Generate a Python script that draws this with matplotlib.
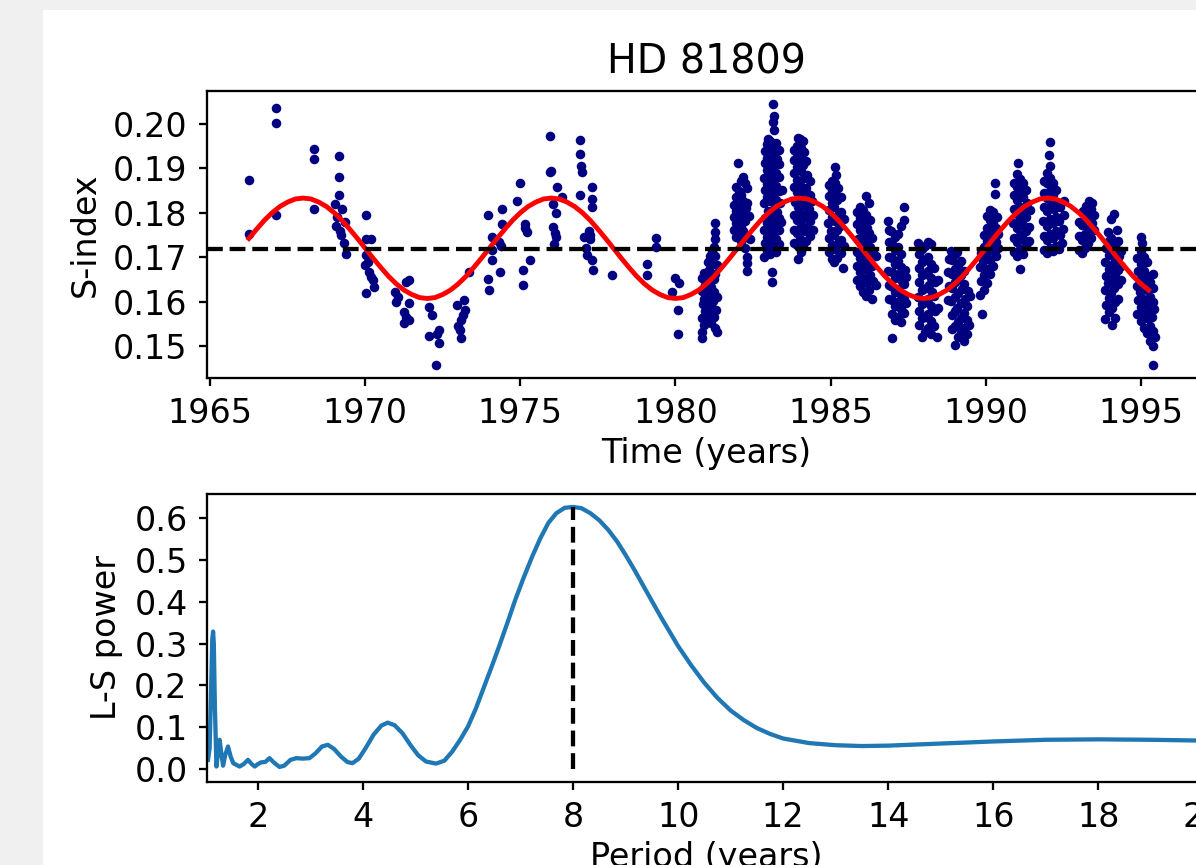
import numpy as np
import matplotlib
matplotlib.use('Agg')
import matplotlib.pyplot as plt
from matplotlib.patches import Rectangle
from matplotlib.ticker import MultipleLocator

# --- data ---
star_name = 'HD 81809'
mean_sindex = 0.1718
best_period = 8.0
peak_power = 0.627

# (year, S-index), sparse early seasons
sparse_obs = [
    (1966.25, 0.1874), (1966.25, 0.1753), (1967.14, 0.2035), (1967.14, 0.2001), (1967.13, 0.1794),
    (1968.36, 0.1943), (1968.36, 0.1921), (1968.36, 0.1809),
    (1969.15, 0.1927), (1969.15, 0.1881), (1969.15, 0.1840), (1969.02, 0.1820), (1969.25, 0.1809),
    (1969.36, 0.1780), (1969.05, 0.1771), (1969.19, 0.1760), (1969.30, 0.1732), (1969.39, 0.1706),
    (1969.10, 0.1790), (1969.22, 0.1750),
    (1970.04, 0.1795), (1970.04, 0.1741), (1970.17, 0.1741), (1970.03, 0.1704), (1970.00, 0.1682),
    (1970.12, 0.1667), (1970.24, 0.1648), (1970.27, 0.1633), (1970.01, 0.1620), (1970.10, 0.1690),
    (1970.20, 0.1655),
    (1970.97, 0.1622), (1971.00, 0.1599), (1971.24, 0.1577), (1971.24, 0.1551), (1971.30, 0.1644),
    (1971.40, 0.1648), (1971.40, 0.1596), (1971.40, 0.1558), (1971.30, 0.1565), (1971.05, 0.1610),
    (1972.05, 0.1588), (1972.15, 0.1570), (1972.05, 0.1522), (1972.37, 0.1536), (1972.37, 0.1506),
    (1972.29, 0.1457), (1972.30, 0.1528),
    (1972.96, 0.1592), (1973.17, 0.1603), (1973.20, 0.1581), (1973.10, 0.1558), (1973.05, 0.1536),
    (1973.10, 0.1517), (1973.15, 0.1570), (1973.00, 0.1545), (1973.33, 0.1667),
    (1973.97, 0.1794), (1974.08, 0.1745), (1974.08, 0.1693), (1974.35, 0.1667), (1973.97, 0.1650),
    (1974.00, 0.1626), (1974.41, 0.1809), (1974.40, 0.1775), (1974.38, 0.1726), (1974.10, 0.1715),
    (1974.30, 0.1735),
    (1974.89, 0.1827), (1975.00, 0.1868), (1975.16, 0.1775), (1975.20, 0.1756), (1975.16, 0.1765),
    (1975.32, 0.1693), (1975.10, 0.1670), (1975.10, 0.1638),
    (1975.96, 0.1973), (1975.96, 0.1891), (1976.18, 0.1857), (1976.05, 0.1820), (1976.34, 0.1835),
    (1976.05, 0.1767), (1976.15, 0.1745), (1976.10, 0.1730), (1976.00, 0.1895), (1976.15, 0.1800),
    (1976.12, 0.1755),
    (1976.93, 0.1963), (1976.93, 0.1932), (1976.95, 0.1906), (1977.00, 0.1891), (1976.93, 0.1840),
    (1977.31, 0.1857), (1977.31, 0.1831), (1977.31, 0.1812), (1977.20, 0.1760), (1977.25, 0.1741),
    (1977.15, 0.1704), (1977.30, 0.1693), (1977.35, 0.1670), (1977.10, 0.1720), (1977.25, 0.1750),
    (1977.05, 0.1745),
    (1977.95, 0.1659), (1979.08, 0.1685), (1979.08, 0.1659), (1979.38, 0.1743), (1979.38, 0.1723),
    (1979.88, 0.1622), (1979.99, 0.1652), (1980.10, 0.1642), (1980.07, 0.1581), (1980.08, 0.1527),
]

# (year, S-index), dense seasons 1981-1995
dense_obs = [
    # 1981
    (1980.84, 0.1518), (1980.86, 0.1531), (1980.85, 0.1562), (1980.88, 0.1594), (1980.87, 0.1623), (1980.86, 0.1652),
    (1980.93, 0.1547), (1980.94, 0.1578), (1980.92, 0.1606), (1980.95, 0.1637), (1980.93, 0.1664),
    (1981.01, 0.1556), (1981.02, 0.1587), (1981.00, 0.1603), (1981.03, 0.1617), (1981.01, 0.1642), (1981.02, 0.1661), (1981.04, 0.1688),
    (1981.08, 0.1561), (1981.09, 0.1576), (1981.07, 0.1597), (1981.10, 0.1626), (1981.08, 0.1646), (1981.09, 0.1671), (1981.11, 0.1702),
    (1981.16, 0.1552), (1981.15, 0.1591), (1981.17, 0.1612), (1981.16, 0.1633), (1981.18, 0.1657), (1981.15, 0.1684), (1981.17, 0.1712),
    (1981.23, 0.1566), (1981.22, 0.1601), (1981.24, 0.1622), (1981.23, 0.1651), (1981.25, 0.1722), (1981.27, 0.1741),
    (1981.28, 0.1541), (1981.30, 0.1582), (1981.29, 0.1663), (1981.28, 0.1702), (1981.29, 0.1757), (1981.27, 0.1776),
    (1981.34, 0.1532), (1981.35, 0.1611), (1981.33, 0.1682),
    # 1982
    (1981.88, 0.1762), (1981.89, 0.1791), (1981.88, 0.1818),
    (1981.95, 0.1746), (1981.96, 0.1776), (1981.94, 0.1804), (1981.96, 0.1836), (1981.95, 0.1858),
    (1982.03, 0.1911), (1982.04, 0.1849), (1982.02, 0.1816), (1982.03, 0.1787), (1982.05, 0.1751),
    (1982.10, 0.1871), (1982.11, 0.1841), (1982.09, 0.1802), (1982.12, 0.1769), (1982.10, 0.1736),
    (1982.18, 0.1880), (1982.17, 0.1826), (1982.19, 0.1794), (1982.18, 0.1758),
    (1982.25, 0.1866), (1982.26, 0.1811), (1982.24, 0.1781), (1982.26, 0.1745), (1982.25, 0.1721),
    (1982.31, 0.1856), (1982.32, 0.1822), (1982.31, 0.1701), (1982.30, 0.1686), (1982.31, 0.1669),
    (1982.38, 0.1792), (1982.39, 0.1741),
    # 1983
    (1983.15, 0.2044), (1983.16, 0.2018), (1983.14, 0.2004), (1983.18, 0.1986),
    (1982.86, 0.1701), (1982.87, 0.1732), (1982.85, 0.1761), (1982.88, 0.1789), (1982.86, 0.1822), (1982.87, 0.1851), (1982.85, 0.1879), (1982.88, 0.1912), (1982.87, 0.1938),
    (1982.95, 0.1714), (1982.96, 0.1746), (1982.94, 0.1776), (1982.97, 0.1804), (1982.95, 0.1836), (1982.96, 0.1864), (1982.94, 0.1897), (1982.96, 0.1924), (1982.95, 0.1954), (1982.97, 0.1966),
    (1983.04, 0.1706), (1983.05, 0.1734), (1983.06, 0.1766), (1983.04, 0.1796), (1983.05, 0.1826), (1983.06, 0.1854), (1983.04, 0.1886), (1983.05, 0.1914), (1983.06, 0.1944), (1983.05, 0.1961),
    (1983.14, 0.1721), (1983.15, 0.1749), (1983.13, 0.1781), (1983.16, 0.1809), (1983.14, 0.1841), (1983.15, 0.1869), (1983.13, 0.1901), (1983.16, 0.1929), (1983.14, 0.1951),
    (1983.24, 0.1711), (1983.25, 0.1741), (1983.23, 0.1769), (1983.26, 0.1801), (1983.24, 0.1829), (1983.25, 0.1861), (1983.23, 0.1889), (1983.26, 0.1921), (1983.24, 0.1956),
    (1983.34, 0.1729), (1983.35, 0.1761), (1983.33, 0.1789), (1983.36, 0.1821), (1983.34, 0.1849), (1983.35, 0.1881), (1983.33, 0.1909), (1983.35, 0.1941),
    (1983.10, 0.1667), (1983.11, 0.1644), (1983.41, 0.1779), (1983.42, 0.1852),
    # 1984
    (1983.96, 0.1968), (1984.02, 0.1966), (1984.10, 0.1962),
    (1983.82, 0.1731), (1983.83, 0.1762), (1983.81, 0.1795), (1983.84, 0.1824), (1983.82, 0.1858), (1983.83, 0.1889), (1983.81, 0.1918), (1983.83, 0.1941),
    (1983.92, 0.1727), (1983.93, 0.1754), (1983.91, 0.1784), (1983.94, 0.1812), (1983.92, 0.1846), (1983.93, 0.1874), (1983.91, 0.1904), (1983.93, 0.1932), (1983.92, 0.1951),
    (1984.02, 0.1741), (1984.03, 0.1772), (1984.01, 0.1801), (1984.04, 0.1834), (1984.02, 0.1862), (1984.03, 0.1893), (1984.01, 0.1921), (1984.03, 0.1946),
    (1984.12, 0.1722), (1984.13, 0.1759), (1984.11, 0.1789), (1984.14, 0.1818), (1984.12, 0.1849), (1984.13, 0.1879), (1984.11, 0.1908), (1984.13, 0.1937),
    (1984.22, 0.1736), (1984.23, 0.1768), (1984.21, 0.1796), (1984.24, 0.1829), (1984.22, 0.1856), (1984.23, 0.1886), (1984.21, 0.1916),
    (1984.32, 0.1747), (1984.33, 0.1781), (1984.31, 0.1809), (1984.34, 0.1841), (1984.32, 0.1872),
    (1984.42, 0.1762), (1984.43, 0.1794), (1984.41, 0.1826),
    (1983.95, 0.1695), (1984.05, 0.1712),
    # 1985
    (1985.13, 0.1903), (1985.18, 0.1884),
    (1984.94, 0.1712), (1984.95, 0.1744), (1984.93, 0.1776), (1984.96, 0.1806), (1984.94, 0.1838), (1984.95, 0.1862),
    (1985.03, 0.1696), (1985.04, 0.1727), (1985.02, 0.1759), (1985.05, 0.1791), (1985.03, 0.1821), (1985.04, 0.1851), (1985.06, 0.1871),
    (1985.12, 0.1688), (1985.13, 0.1719), (1985.11, 0.1749), (1985.14, 0.1781), (1985.12, 0.1812), (1985.13, 0.1843), (1985.15, 0.1867),
    (1985.22, 0.1699), (1985.23, 0.1731), (1985.21, 0.1762), (1985.24, 0.1796), (1985.22, 0.1828), (1985.23, 0.1856),
    (1985.32, 0.1709), (1985.33, 0.1739), (1985.31, 0.1771), (1985.34, 0.1801), (1985.32, 0.1835),
    (1985.41, 0.1676), (1985.42, 0.1724), (1985.44, 0.1786),
    # 1986
    (1986.15, 0.1837), (1986.25, 0.1822),
    (1985.85, 0.1648), (1985.86, 0.1681), (1985.84, 0.1712), (1985.87, 0.1741), (1985.85, 0.1774), (1985.86, 0.1801),
    (1985.95, 0.1636), (1985.96, 0.1667), (1985.94, 0.1699), (1985.97, 0.1729), (1985.95, 0.1761), (1985.96, 0.1789), (1985.94, 0.1812),
    (1986.05, 0.1622), (1986.06, 0.1654), (1986.04, 0.1687), (1986.07, 0.1716), (1986.05, 0.1748), (1986.06, 0.1778), (1986.04, 0.1806),
    (1986.15, 0.1613), (1986.16, 0.1642), (1986.14, 0.1674), (1986.17, 0.1706), (1986.15, 0.1736), (1986.16, 0.1766), (1986.14, 0.1796),
    (1986.25, 0.1627), (1986.26, 0.1659), (1986.24, 0.1691), (1986.27, 0.1723), (1986.25, 0.1754), (1986.26, 0.1784),
    (1986.35, 0.1606), (1986.36, 0.1646), (1986.34, 0.1679), (1986.37, 0.1711), (1986.35, 0.1742),
    (1986.45, 0.1638), (1986.46, 0.1702),
    # 1987
    (1987.38, 0.1812), (1986.97, 0.1517),
    (1986.87, 0.1606), (1986.88, 0.1638), (1986.86, 0.1669), (1986.89, 0.1701), (1986.87, 0.1733), (1986.88, 0.1762), (1986.86, 0.1781),
    (1986.97, 0.1571), (1986.98, 0.1604), (1986.96, 0.1636), (1986.99, 0.1667), (1986.97, 0.1699), (1986.98, 0.1729), (1986.96, 0.1758),
    (1987.07, 0.1558), (1987.08, 0.1591), (1987.06, 0.1621), (1987.09, 0.1653), (1987.07, 0.1684), (1987.08, 0.1716), (1987.06, 0.1746),
    (1987.17, 0.1566), (1987.18, 0.1598), (1987.16, 0.1629), (1987.19, 0.1661), (1987.17, 0.1691), (1987.18, 0.1723), (1987.16, 0.1752),
    (1987.27, 0.1553), (1987.28, 0.1583), (1987.26, 0.1614), (1987.29, 0.1646), (1987.27, 0.1677), (1987.28, 0.1708), (1987.26, 0.1771),
    (1987.37, 0.1574), (1987.38, 0.1606), (1987.36, 0.1639), (1987.39, 0.1671), (1987.37, 0.1783),
    (1987.44, 0.1596), (1987.43, 0.1656),
    # 1988
    (1987.84, 0.1548), (1987.85, 0.1579), (1987.83, 0.1611), (1987.86, 0.1643), (1987.84, 0.1676), (1987.85, 0.1706), (1987.83, 0.1731),
    (1987.94, 0.1521), (1987.95, 0.1562), (1987.93, 0.1594), (1987.96, 0.1626), (1987.94, 0.1659), (1987.95, 0.1689), (1987.93, 0.1718),
    (1988.04, 0.1532), (1988.05, 0.1566), (1988.03, 0.1598), (1988.06, 0.1631), (1988.04, 0.1663), (1988.05, 0.1694), (1988.03, 0.1724),
    (1988.14, 0.1541), (1988.15, 0.1573), (1988.13, 0.1606), (1988.16, 0.1638), (1988.14, 0.1669), (1988.15, 0.1701), (1988.13, 0.1733),
    (1988.24, 0.1528), (1988.25, 0.1556), (1988.23, 0.1589), (1988.26, 0.1621), (1988.24, 0.1652), (1988.25, 0.1684), (1988.23, 0.1729),
    (1988.34, 0.1546), (1988.35, 0.1578), (1988.33, 0.1613), (1988.36, 0.1644), (1988.34, 0.1676),
    (1988.44, 0.1521), (1988.45, 0.1586), (1988.46, 0.1648),
    # 1989
    (1988.80, 0.1604), (1988.81, 0.1636), (1988.79, 0.1667), (1988.82, 0.1696),
    (1988.90, 0.1538), (1988.91, 0.1569), (1988.89, 0.1601), (1988.92, 0.1631), (1988.90, 0.1662), (1988.91, 0.1694), (1988.89, 0.1713),
    (1989.00, 0.1502), (1989.01, 0.1546), (1989.00, 0.1578), (1989.02, 0.1611), (1989.00, 0.1643), (1989.01, 0.1674), (1989.02, 0.1706),
    (1989.10, 0.1521), (1989.11, 0.1553), (1989.09, 0.1586), (1989.12, 0.1619), (1989.10, 0.1651), (1989.11, 0.1683), (1989.09, 0.1711),
    (1989.20, 0.1531), (1989.21, 0.1564), (1989.19, 0.1596), (1989.22, 0.1628), (1989.20, 0.1659), (1989.21, 0.1691),
    (1989.30, 0.1512), (1989.31, 0.1541), (1989.29, 0.1574), (1989.32, 0.1606), (1989.30, 0.1639), (1989.31, 0.1668),
    (1989.40, 0.1527), (1989.41, 0.1559), (1989.39, 0.1591), (1989.42, 0.1623),
    (1989.47, 0.1548), (1989.48, 0.1612),
    # 1990
    (1990.30, 0.1866), (1990.30, 0.1843), (1989.89, 0.1573),
    (1989.83, 0.1614), (1989.84, 0.1646), (1989.82, 0.1678), (1989.85, 0.1709),
    (1989.93, 0.1626), (1989.94, 0.1659), (1989.92, 0.1691), (1989.95, 0.1722), (1989.93, 0.1751),
    (1990.03, 0.1641), (1990.04, 0.1673), (1990.02, 0.1706), (1990.05, 0.1736), (1990.03, 0.1766), (1990.04, 0.1792),
    (1990.13, 0.1661), (1990.14, 0.1694), (1990.12, 0.1726), (1990.15, 0.1756), (1990.13, 0.1784), (1990.14, 0.1806),
    (1990.23, 0.1681), (1990.24, 0.1713), (1990.22, 0.1744), (1990.25, 0.1776), (1990.23, 0.1801),
    (1990.33, 0.1702), (1990.34, 0.1734), (1990.32, 0.1766), (1990.35, 0.1791),
    (1990.39, 0.1721), (1990.40, 0.1753),
    # 1991
    (1991.05, 0.1911), (1991.10, 0.1674),
    (1990.90, 0.1712), (1990.91, 0.1744), (1990.89, 0.1776), (1990.92, 0.1809), (1990.90, 0.1839), (1990.91, 0.1866),
    (1991.00, 0.1703), (1991.01, 0.1734), (1991.00, 0.1766), (1991.02, 0.1798), (1991.00, 0.1829), (1991.01, 0.1859), (1991.02, 0.1887),
    (1991.10, 0.1719), (1991.11, 0.1751), (1991.09, 0.1783), (1991.12, 0.1814), (1991.10, 0.1846), (1991.11, 0.1876),
    (1991.20, 0.1708), (1991.21, 0.1741), (1991.19, 0.1773), (1991.22, 0.1804), (1991.20, 0.1836), (1991.21, 0.1866),
    (1991.30, 0.1726), (1991.31, 0.1759), (1991.29, 0.1791), (1991.32, 0.1822), (1991.30, 0.1851),
    (1991.40, 0.1736), (1991.41, 0.1769), (1991.44, 0.1806),
    # 1992
    (1992.08, 0.1960), (1992.03, 0.1931), (1992.06, 0.1906),
    (1991.87, 0.1716), (1991.88, 0.1748), (1991.86, 0.1781), (1991.89, 0.1812), (1991.87, 0.1844), (1991.88, 0.1872),
    (1991.97, 0.1709), (1991.98, 0.1739), (1991.96, 0.1771), (1991.99, 0.1803), (1991.97, 0.1834), (1991.98, 0.1866), (1991.96, 0.1889),
    (1992.07, 0.1721), (1992.08, 0.1753), (1992.06, 0.1786), (1992.09, 0.1818), (1992.07, 0.1849), (1992.08, 0.1879),
    (1992.17, 0.1713), (1992.18, 0.1744), (1992.16, 0.1777), (1992.19, 0.1809), (1992.17, 0.1841), (1992.18, 0.1868),
    (1992.27, 0.1726), (1992.28, 0.1758), (1992.26, 0.1791), (1992.29, 0.1823), (1992.27, 0.1851),
    (1992.37, 0.1718), (1992.38, 0.1749), (1992.36, 0.1782), (1992.39, 0.1813),
    (1992.47, 0.1731), (1992.48, 0.1764), (1992.51, 0.1796), (1992.53, 0.1826),
    # 1993
    (1993.00, 0.1716), (1993.01, 0.1748), (1993.00, 0.1779),
    (1993.10, 0.1709), (1993.11, 0.1739), (1993.09, 0.1772), (1993.12, 0.1803),
    (1993.20, 0.1721), (1993.21, 0.1753), (1993.19, 0.1786), (1993.22, 0.1816),
    (1993.30, 0.1731), (1993.31, 0.1764), (1993.29, 0.1796), (1993.32, 0.1826),
    (1993.40, 0.1744), (1993.41, 0.1776), (1993.39, 0.1809), (1993.42, 0.1823),
    (1993.49, 0.1761), (1993.50, 0.1794),
    # 1994
    (1994.15, 0.1798), (1994.05, 0.1787), (1994.22, 0.1761),
    (1993.86, 0.1561), (1993.87, 0.1593), (1993.85, 0.1626), (1993.88, 0.1658), (1993.86, 0.1689), (1993.87, 0.1721),
    (1993.96, 0.1576), (1993.97, 0.1608), (1993.95, 0.1641), (1993.98, 0.1673), (1993.96, 0.1704), (1993.97, 0.1736), (1993.95, 0.1756),
    (1994.06, 0.1548), (1994.07, 0.1586), (1994.05, 0.1619), (1994.08, 0.1651), (1994.06, 0.1683), (1994.07, 0.1714), (1994.05, 0.1744),
    (1994.16, 0.1564), (1994.17, 0.1598), (1994.15, 0.1631), (1994.18, 0.1663), (1994.16, 0.1694), (1994.17, 0.1726),
    (1994.26, 0.1606), (1994.27, 0.1639), (1994.25, 0.1671), (1994.28, 0.1703), (1994.26, 0.1736),
    (1994.36, 0.1649), (1994.37, 0.1681), (1994.35, 0.1714),
    # 1995
    (1995.38, 0.1457), (1995.00, 0.1745), (1995.05, 0.1731),
    (1994.89, 0.1571), (1994.90, 0.1603), (1994.88, 0.1636), (1994.91, 0.1668), (1994.89, 0.1699),
    (1994.99, 0.1556), (1995.00, 0.1588), (1994.98, 0.1621), (1995.01, 0.1653), (1994.99, 0.1684), (1995.00, 0.1714),
    (1995.09, 0.1541), (1995.10, 0.1574), (1995.08, 0.1606), (1995.11, 0.1638), (1995.09, 0.1669), (1995.10, 0.1701),
    (1995.19, 0.1529), (1995.20, 0.1562), (1995.18, 0.1594), (1995.21, 0.1626), (1995.19, 0.1657), (1995.20, 0.1688),
    (1995.29, 0.1511), (1995.30, 0.1546), (1995.28, 0.1579), (1995.31, 0.1611), (1995.29, 0.1643),
    (1995.38, 0.1501), (1995.39, 0.1533), (1995.37, 0.1566), (1995.40, 0.1598), (1995.38, 0.1631), (1995.39, 0.1663),
    (1995.45, 0.1521), (1995.44, 0.1583),
]

# red fitted curve, read every quarter year
fit_year = [
    1966.25, 1966.50, 1966.75, 1967.00, 1967.25, 1967.50, 1967.75, 1968.00,
    1968.25, 1968.50, 1968.75, 1969.00, 1969.25, 1969.50, 1969.75, 1970.00,
    1970.25, 1970.50, 1970.75, 1971.00, 1971.25, 1971.50, 1971.75, 1972.00,
    1972.25, 1972.50, 1972.75, 1973.00, 1973.25, 1973.50, 1973.75, 1974.00,
    1974.25, 1974.50, 1974.75, 1975.00, 1975.25, 1975.50, 1975.75, 1976.00,
    1976.25, 1976.50, 1976.75, 1977.00, 1977.25, 1977.50, 1977.75, 1978.00,
    1978.25, 1978.50, 1978.75, 1979.00, 1979.25, 1979.50, 1979.75, 1980.00,
    1980.25, 1980.50, 1980.75, 1981.00, 1981.25, 1981.50, 1981.75, 1982.00,
    1982.25, 1982.50, 1982.75, 1983.00, 1983.25, 1983.50, 1983.75, 1984.00,
    1984.25, 1984.50, 1984.75, 1985.00, 1985.25, 1985.50, 1985.75, 1986.00,
    1986.25, 1986.50, 1986.75, 1987.00, 1987.25, 1987.50, 1987.75, 1988.00,
    1988.25, 1988.50, 1988.75, 1989.00, 1989.25, 1989.50, 1989.75, 1990.00,
    1990.25, 1990.50, 1990.75, 1991.00, 1991.25, 1991.50, 1991.75, 1992.00,
    1992.25, 1992.50, 1992.75, 1993.00, 1993.25, 1993.50, 1993.75, 1994.00,
    1994.25, 1994.50, 1994.75, 1995.00, 1995.25]
fit_sindex = [
    0.1742, 0.1763, 0.1783, 0.1800, 0.1814, 0.1824, 0.1831, 0.1833,
    0.1831, 0.1824, 0.1814, 0.1800, 0.1783, 0.1763, 0.1742, 0.1720,
    0.1698, 0.1677, 0.1657, 0.1640, 0.1626, 0.1616, 0.1609, 0.1607,
    0.1609, 0.1616, 0.1626, 0.1640, 0.1657, 0.1677, 0.1698, 0.1720,
    0.1742, 0.1763, 0.1783, 0.1800, 0.1814, 0.1824, 0.1831, 0.1833,
    0.1831, 0.1824, 0.1814, 0.1800, 0.1783, 0.1763, 0.1742, 0.1720,
    0.1698, 0.1677, 0.1657, 0.1640, 0.1626, 0.1616, 0.1609, 0.1607,
    0.1609, 0.1616, 0.1626, 0.1640, 0.1657, 0.1677, 0.1698, 0.1720,
    0.1742, 0.1763, 0.1783, 0.1800, 0.1814, 0.1824, 0.1831, 0.1833,
    0.1831, 0.1824, 0.1814, 0.1800, 0.1783, 0.1763, 0.1742, 0.1720,
    0.1698, 0.1677, 0.1657, 0.1640, 0.1626, 0.1616, 0.1609, 0.1607,
    0.1609, 0.1616, 0.1626, 0.1640, 0.1657, 0.1677, 0.1698, 0.1720,
    0.1742, 0.1763, 0.1783, 0.1800, 0.1814, 0.1824, 0.1831, 0.1833,
    0.1831, 0.1824, 0.1814, 0.1800, 0.1783, 0.1763, 0.1742, 0.1720,
    0.1698, 0.1677, 0.1657, 0.1640, 0.1626]

# Lomb-Scargle periodogram
period = [1.05, 1.08, 1.11, 1.13, 1.146, 1.16, 1.18, 1.21, 1.24, 1.27, 1.30, 1.336,
          1.38, 1.43, 1.48, 1.53, 1.59, 1.65, 1.73, 1.81, 1.88, 1.94, 2.00, 2.06,
          2.14, 2.22, 2.30, 2.41, 2.50, 2.62, 2.73, 2.85, 2.98, 3.10, 3.22, 3.33,
          3.45, 3.58, 3.70, 3.80, 3.92, 4.05, 4.20, 4.35, 4.47, 4.60, 4.75, 4.90,
          5.05, 5.20, 5.39, 5.55, 5.70, 5.85, 6.00, 6.15, 6.30, 6.45, 6.59, 6.75,
          6.90, 7.05, 7.22, 7.38, 7.53, 7.68, 7.84, 8.00, 8.16, 8.33, 8.50, 8.67,
          8.84, 9.00, 9.17, 9.33, 9.50, 9.67, 9.84, 10.0, 10.25, 10.5, 10.75, 11.0,
          11.25, 11.5, 11.75, 12.0, 12.5, 13.0, 13.5, 14.0, 15.0, 16.0, 17.0, 18.0,
          19.0, 20.0, 20.5]
ls_power = [0.022, 0.05, 0.20, 0.31, 0.329, 0.30, 0.15, 0.006, 0.04, 0.070, 0.04, 0.008,
            0.035, 0.054, 0.03, 0.014, 0.010, 0.006, 0.012, 0.022, 0.012, 0.006, 0.012, 0.016,
            0.017, 0.026, 0.016, 0.005, 0.008, 0.022, 0.026, 0.025, 0.026, 0.038, 0.054, 0.058,
            0.048, 0.030, 0.017, 0.014, 0.025, 0.050, 0.082, 0.104, 0.111, 0.105, 0.086, 0.058,
            0.033, 0.018, 0.013, 0.020, 0.042, 0.070, 0.102, 0.145, 0.195, 0.245, 0.293, 0.350,
            0.405, 0.455, 0.508, 0.553, 0.589, 0.612, 0.625, 0.627, 0.624, 0.612, 0.595, 0.572,
            0.544, 0.512, 0.476, 0.440, 0.402, 0.364, 0.328, 0.294, 0.248, 0.206, 0.170, 0.140,
            0.117, 0.098, 0.084, 0.073, 0.062, 0.057, 0.055, 0.056, 0.061, 0.066, 0.070, 0.071,
            0.070, 0.068, 0.067]

# --- styling: the reference is a default matplotlib figure, blown up ---
s = 2.05      # lines and ticks
fs = 24       # font size of ticks and labels
plt.rcParams.update({
    'font.family': 'DejaVu Sans',
    'font.size': fs,
    'axes.titlesize': fs * 1.19,
    'axes.labelsize': fs,
    'axes.linewidth': 0.8 * s,
    'axes.labelpad': 4 * s,
    'axes.titlepad': 6 * s,
    'xtick.major.size': 6,
    'ytick.major.size': 6,
    'xtick.major.width': 0.8 * s,
    'ytick.major.width': 0.8 * s,
    'xtick.major.pad': 8,
    'ytick.major.pad': 8,
    'lines.linewidth': 1.5 * s,
})

W, H = 1196, 865
fig = plt.figure(figsize=(W / 100, H / 100), dpi=100, facecolor='#f0f0f0')
fig.add_artist(Rectangle((43 / W, 0), 1, (H - 9.5) / H, transform=fig.transFigure,
                         facecolor='white', edgecolor='none', zorder=-1))

def px_axes(left, right, top, bottom):
    return fig.add_axes([left / W, (H - bottom) / H, (right - left) / W, (bottom - top) / H])

ax1 = px_axes(207, 1206, 91, 378)
ax2 = px_axes(207, 1206, 494, 782)

obs = np.array(sparse_obs + dense_obs)
ax1.plot(obs[:, 0], obs[:, 1], 'o', color='navy', ms=6.9, mew=0)
ax1.plot(fit_year, fit_sindex, color='red', lw=3.5)
ax1.axhline(mean_sindex, color='k', ls='--', lw=1.5 * s)
ax1.set_xlim(1964.9, 1997.1)
ax1.set_ylim(0.1428, 0.2074)
ax1.xaxis.set_major_locator(MultipleLocator(5))
ax1.yaxis.set_major_locator(MultipleLocator(0.01))
ax1.set_title(star_name)
ax1.set_xlabel('Time (years)', labelpad=5)
ax1.set_ylabel('S-index')

ax2.plot(period, ls_power, color='#1f77b4')
ax2.plot([best_period, best_period], [0, peak_power], 'k--')
ax2.set_xlim(1.03, 20.05)
ax2.set_ylim(-0.031, 0.658)
ax2.xaxis.set_major_locator(MultipleLocator(2))
ax2.yaxis.set_major_locator(MultipleLocator(0.1))
ax2.set_xlabel('Period (years)', labelpad=5)
ax2.set_ylabel('L-S power')

fig.savefig('out.png', dpi=100)
